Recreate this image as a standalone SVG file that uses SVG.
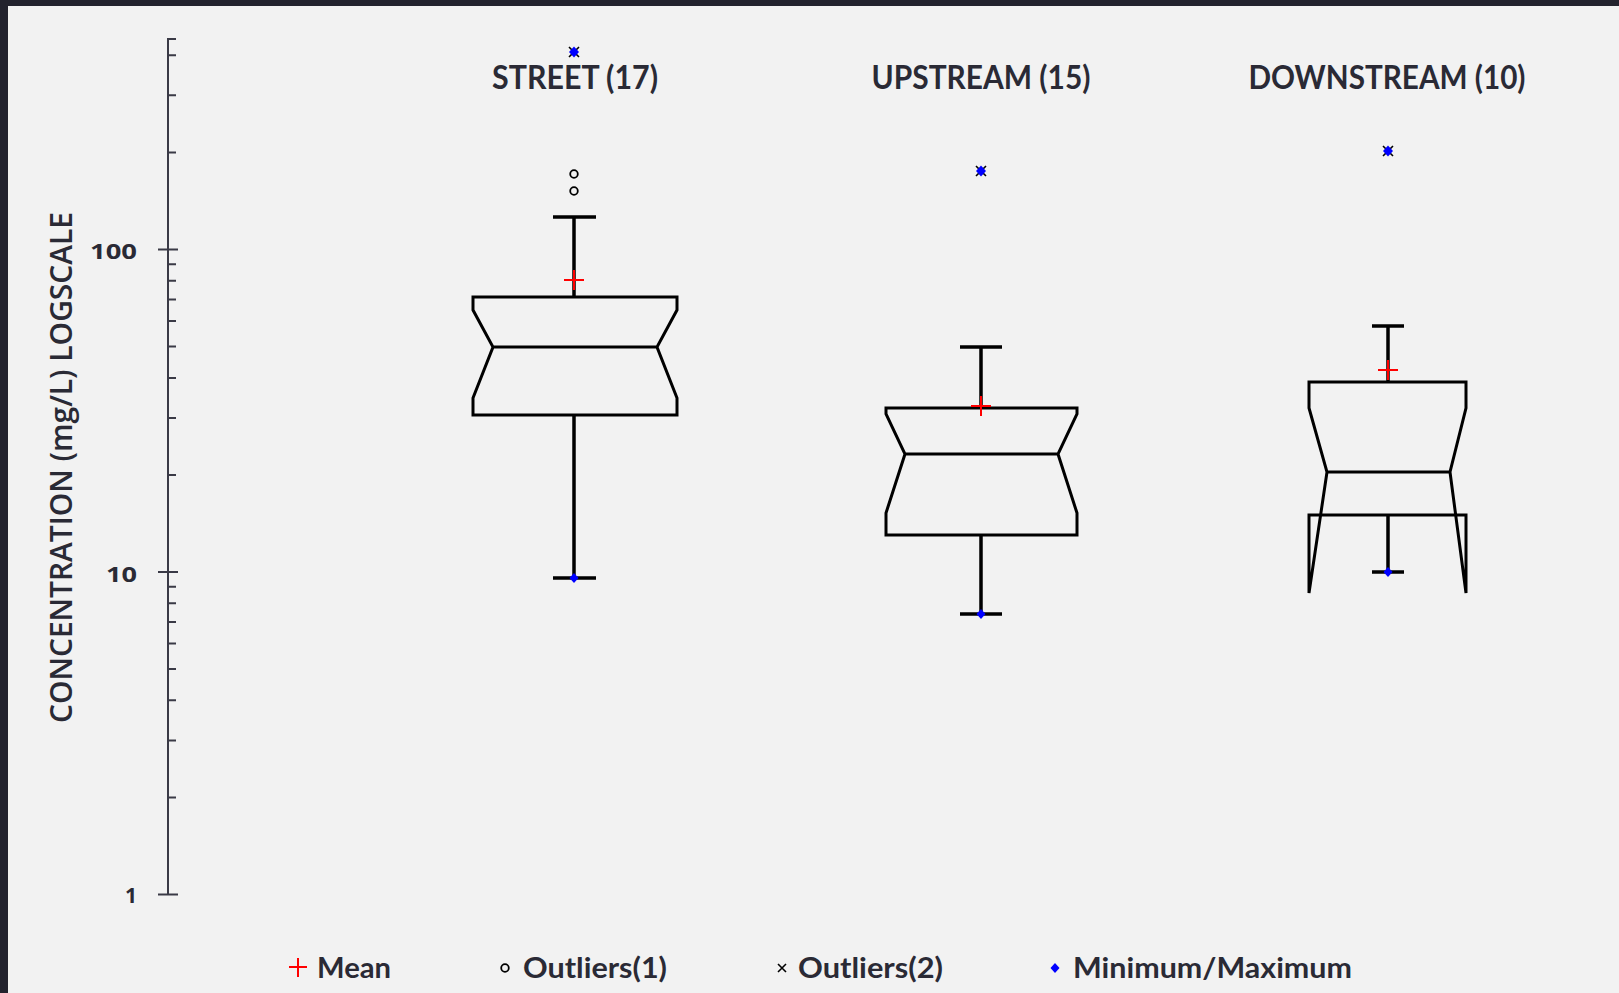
<svg xmlns="http://www.w3.org/2000/svg" width="1619" height="993" viewBox="0 0 1619 993">
<style>
.bg{fill:#f2f2f2}
.frame{fill:#23232e}
.axis{stroke:#3a3a46;stroke-width:2;fill:none}
.tick{stroke:#3a3a46;stroke-width:2}
.num{font-family:"Open Sans","DejaVu Sans",sans-serif;font-weight:700;font-size:21px;fill:#2a2a35;text-anchor:end}
.ytitle{font-family:"Open Sans","Noto Sans",sans-serif;font-weight:600;font-size:30px;fill:#2a2a35;text-anchor:middle}
.title{font-family:Lato,"Open Sans",sans-serif;font-weight:700;font-size:32px;fill:#2a2a35;text-anchor:middle}
.leg{font-family:Lato,"Open Sans",sans-serif;font-weight:700;font-size:29px;fill:#2a2a35}
.box{fill:none;stroke:#000;stroke-width:3;stroke-linejoin:miter}
.wh{stroke:#000;stroke-width:3.5;fill:none}
.mean{stroke:#ff0000;stroke-width:2}
.o1{fill:none;stroke:#000;stroke-width:1.8}
.o2{stroke:#000;stroke-width:1.6}
.mm{fill:#0000ff}
</style>
<defs>
<path id="dia" d="M0,-5 L4.5,0 L0,5 L-4.5,0 Z" class="mm"/>
<g id="out2"><path d="M-5,-5 L5,5 M-5,5 L5,-5" class="o2"/><path d="M0,-5.5 L5,0 L0,5.5 L-5,0 Z" class="mm"/></g>
<path id="plus" d="M-10,0 H10 M0,-10 V10" class="mean"/>
</defs>
<rect class="bg" x="0" y="0" width="1619" height="993"/>
<rect class="frame" x="0" y="0" width="1619" height="6"/>
<rect class="frame" x="0" y="0" width="8" height="993"/>

<g id="y-axis">
<path class="axis" d="M176,39 H168 V895"/>
<path class="tick" d="M158,249.5 H178 M158,572 H178 M158,894.5 H178"/>
<path class="tick" d="M168,55.3 H176 M168,95.3 H176 M168,152.4 H176 M168,264.3 H176 M168,280.8 H176 M168,299.5 H176 M168,321 H176 M168,346.6 H176 M168,378 H176 M168,418 H176 M168,475 H176 M168,586.8 H176 M168,603.3 H176 M168,622 H176 M168,643.6 H176 M168,669 H176 M168,700.3 H176 M168,740.6 H176 M168,797.5 H176"/>
<text class="num" x="137" y="259" textLength="47" lengthAdjust="spacingAndGlyphs">100</text>
<text class="num" x="137" y="582" textLength="31" lengthAdjust="spacingAndGlyphs">10</text>
<text class="num" x="137" y="903">1</text>
<text class="ytitle" transform="translate(72,467.5) rotate(-90)" textLength="511" lengthAdjust="spacingAndGlyphs">CONCENTRATION (mg/L) LOGSCALE</text>
</g>

<g id="street">
<text class="title" x="575" y="89" textLength="166" lengthAdjust="spacingAndGlyphs">STREET (17)</text>
<path class="wh" d="M574,297 V217 M553,217 H596 M574,415 V578 M553,578 H596"/>
<path class="box" d="M473,297 H677 V310 L657,347 L677,398 V415 H473 V398 L493,347 L473,310 Z M493,347 H657"/>
<use href="#plus" x="574" y="280"/>
<circle class="o1" cx="574" cy="174" r="3.8"/>
<circle class="o1" cx="574" cy="191" r="3.8"/>
<use href="#out2" x="574" y="52"/>
<use href="#dia" x="574" y="578"/>
</g>

<g id="upstream">
<text class="title" x="981" y="89" textLength="219" lengthAdjust="spacingAndGlyphs">UPSTREAM (15)</text>
<path class="wh" d="M981,408 V347 M960,347 H1002 M981,535 V614 M960,614 H1002"/>
<path class="box" d="M886,408 H1077 V414 L1058,454 L1077,513 V535 H886 V513 L905,454 L886,414 Z M905,454 H1058"/>
<use href="#plus" x="981" y="406"/>
<use href="#out2" x="981" y="171"/>
<use href="#dia" x="981" y="614"/>
</g>

<g id="downstream">
<text class="title" x="1387" y="89" textLength="277" lengthAdjust="spacingAndGlyphs">DOWNSTREAM (10)</text>
<path class="wh" d="M1388,382 V326 M1372,326 H1404 M1388,515 V572 M1372,572 H1404"/>
<path class="box" d="M1309,382 H1466 V408 L1450,472 L1466,593 V515 H1309 V593 L1327,472 L1309,408 Z M1327,472 H1450"/>
<use href="#plus" x="1388" y="370"/>
<use href="#out2" x="1388" y="151"/>
<use href="#dia" x="1388" y="572"/>
</g>

<g id="legend">
<path d="M289,967 H307 M298,958 V977" class="mean"/>
<text class="leg" x="317" y="978" textLength="74" lengthAdjust="spacingAndGlyphs">Mean</text>
<circle class="o1" cx="505" cy="968" r="3.8"/>
<text class="leg" x="523" y="978" textLength="144" lengthAdjust="spacingAndGlyphs">Outliers(1)</text>
<path d="M778,964 L786,972 M778,972 L786,964" class="o2" stroke-width="2"/>
<text class="leg" x="798" y="978" textLength="145" lengthAdjust="spacingAndGlyphs">Outliers(2)</text>
<path d="M1055,963 L1059.5,968 L1055,973 L1050.5,968 Z" class="mm"/>
<text class="leg" x="1073" y="978" textLength="279" lengthAdjust="spacingAndGlyphs">Minimum/Maximum</text>
</g>

<g id="connectors"></g>
</svg>
